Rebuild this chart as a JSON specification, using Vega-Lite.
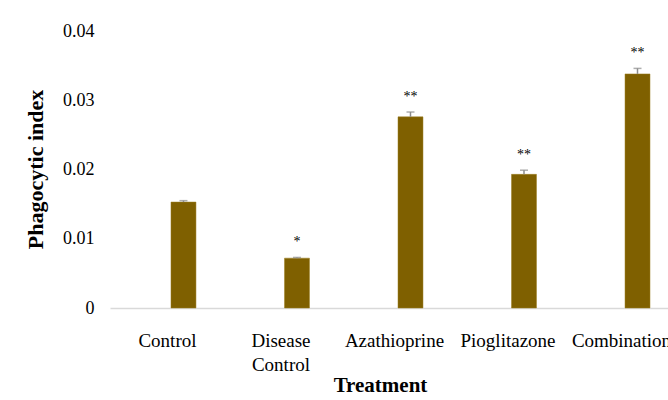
{
  "$schema": "https://vega.github.io/schema/vega-lite/v6.json",
  "autosize": {"type": "none"},
  "width": 558,
  "height": 277,
  "padding": {"left": 110, "top": 31, "right": 0, "bottom": 92},
  "background": "white",
  "config": {
    "font": "Liberation Serif",
    "view": {"stroke": null}
  },
  "data": {
    "values": [
      {"treatment": "Control", "value": 0.0153, "upper": 0.0155, "sig": ""},
      {"treatment": "Disease Control", "value": 0.0072, "upper": 0.0073, "sig": "*"},
      {"treatment": "Azathioprine", "value": 0.0276, "upper": 0.0283, "sig": "**"},
      {"treatment": "Pioglitazone", "value": 0.0193, "upper": 0.0199, "sig": "**"},
      {"treatment": "Combination", "value": 0.0338, "upper": 0.0346, "sig": "**"}
    ]
  },
  "encoding": {
    "x": {
      "field": "treatment",
      "type": "nominal",
      "sort": null,
      "scale": {"paddingInner": 0.78, "paddingOuter": 0.348, "align": 0.772},
      "axis": {
        "title": "Treatment",
        "titleFont": "Liberation Serif",
        "titleFontSize": 21,
        "titleFontWeight": "bold",
        "titleColor": "black",
        "titleX": 270,
        "titleY": 77,
        "titleBaseline": "middle",
        "labelAngle": 0,
        "labelFontSize": 19,
        "labelColor": "black",
        "labelPadding": 23,
        "labelLineHeight": 24,
        "labelOffset": -16,
        "labelExpr": "datum.label == 'Disease Control' ? ['Disease', 'Control'] : datum.label",
        "ticks": false,
        "domainColor": "#d9d9d9",
        "domainWidth": 1.5,
        "labelOverlap": false,
        "labelLimit": 0
      }
    },
    "y": {
      "field": "value",
      "type": "quantitative",
      "scale": {"domain": [0, 0.04], "nice": false},
      "axis": {
        "title": "Phagocytic index",
        "titleFont": "Liberation Serif",
        "titleFontSize": 22,
        "titleFontWeight": "bold",
        "titleColor": "black",
        "titleX": -75,
        "titleY": 138,
        "titleAngle": 270,
        "titleBaseline": "middle",
        "values": [0, 0.01, 0.02, 0.03, 0.04],
        "labelExpr": "datum.value == 0 ? '0' : datum.label",
        "labelFontSize": 18,
        "labelColor": "black",
        "labelPadding": 16,
        "ticks": false,
        "domain": false,
        "grid": false
      }
    }
  },
  "layer": [
    {
      "mark": {"type": "bar", "color": "#7f6000", "stroke": "#9a7d1e", "strokeWidth": 0.5}
    },
    {
      "mark": {"type": "rule", "color": "#8c8c8c", "strokeWidth": 1.5},
      "encoding": {
        "y2": {"field": "upper"}
      }
    },
    {
      "mark": {"type": "tick", "color": "#8c8c8c", "size": 8, "thickness": 1.5, "orient": "horizontal"},
      "encoding": {
        "y": {"field": "upper", "type": "quantitative", "title": "Phagocytic index"}
      }
    },
    {
      "mark": {"type": "text", "fontSize": 14, "dy": -11, "baseline": "alphabetic", "color": "black"},
      "encoding": {
        "y": {"field": "upper", "type": "quantitative", "title": "Phagocytic index"},
        "text": {"field": "sig"}
      }
    }
  ]
}
